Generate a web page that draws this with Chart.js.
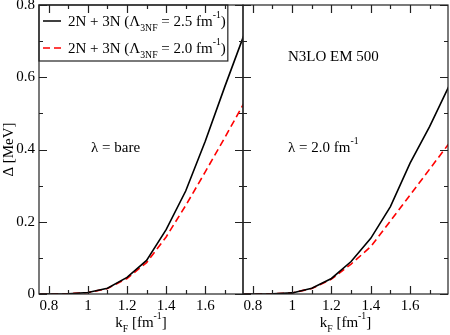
<!DOCTYPE html>
<html>
<head>
<meta charset="utf-8">
<script src="https://cdn.jsdelivr.net/npm/chart.js@4/dist/chart.umd.min.js"></script>
<style>
  html, body { margin: 0; padding: 0; background: #fff; }
  #wrap { position: relative; width: 450px; height: 335px; }
  canvas { position: absolute; left: 0; top: 0; }
</style>
</head>
<body>
<div id="wrap">
  <canvas id="chartBare" width="450" height="335"></canvas>
  <canvas id="chartSrg" width="450" height="335"></canvas>
</div>
<script>
// Fermi momentum k_F [fm^-1]
const kF = [0.7, 0.8, 0.9, 1.0, 1.1, 1.2, 1.3, 1.4, 1.5, 1.6, 1.7, 1.8];

// Panel kiri: lambda = bare
const bare25 = [0, 0, 0.0008, 0.004, 0.016, 0.046, 0.093, 0.178, 0.285, 0.423, 0.574, 0.72];
const bare20 = [0, 0, 0.0008, 0.004, 0.015, 0.043, 0.087, 0.158, 0.245, 0.338, 0.433, 0.53];

// Panel kanan: lambda = 2.0 fm^-1
const srg25 = [0, 0, 0.0005, 0.003, 0.016, 0.043, 0.090, 0.154, 0.242, 0.362, 0.464, 0.578];
const srg20 = [0, 0, 0.0005, 0.003, 0.015, 0.041, 0.083, 0.131, 0.202, 0.274, 0.346, 0.418];

// Label sumbu
const xTickLabels = [0.8, 1.0, 1.2, 1.4, 1.6];
const yTickLabels = [0, 0.2, 0.4, 0.6, 0.8];

const SERIF = "'Liberation Serif', 'DejaVu Serif', serif";
Chart.defaults.font.family = SERIF;
Chart.defaults.font.size = 15;
Chart.defaults.color = '#000';

function toPoints(ys) {
    return kF.map((k, i) => ({ x: k, y: ys[i] }));
}

function fmt(v) {
    return String(+Number(v).toFixed(1));
}

// Tulis teks dengan subscript / superscript
function drawRich(ctx, parts, x, y, size) {
    parts.forEach(p => {
        if (p.sub) {
            ctx.font = `${size * 0.65}px ${SERIF}`;
            ctx.fillText(p.t, x, y + size * 0.3);
        } else if (p.sup) {
            ctx.font = `${size * 0.65}px ${SERIF}`;
            ctx.fillText(p.t, x, y - size * 0.55);
        } else {
            ctx.font = `${size}px ${SERIF}`;
            ctx.fillText(p.t, x, y);
        }
        x += ctx.measureText(p.t).width;
    });
    return x;
}

// Bingkai + tick ke dalam ala xmgrace
const frameTicks = {
    id: 'frameTicks',
    afterDraw(chart) {
        const { ctx, chartArea: a, scales: { x, y } } = chart;
        ctx.save();
        ctx.strokeStyle = '#222';
        ctx.lineWidth = 1.2;
        ctx.strokeRect(a.left, a.top, a.right - a.left, a.bottom - a.top);
        ctx.beginPath();
        for (let k = 7; k <= 18; k++) {
            const v = k / 10;
            if (v < x.min || v > x.max) continue;
            const px = Math.round(x.getPixelForValue(v)) + 0.5;
            const len = k % 2 === 0 ? 8 : 4;
            ctx.moveTo(px, a.bottom); ctx.lineTo(px, a.bottom - len);
            ctx.moveTo(px, a.top); ctx.lineTo(px, a.top + len);
        }
        for (let k = 0; k <= 8; k++) {
            const py = Math.round(y.getPixelForValue(k / 10)) + 0.5;
            const len = k % 2 === 0 ? 8 : 4;
            ctx.moveTo(a.left, py); ctx.lineTo(a.left + len, py);
            ctx.moveTo(a.right, py); ctx.lineTo(a.right - len, py);
        }
        ctx.stroke();

        // judul sumbu x
        ctx.fillStyle = '#000';
        ctx.textBaseline = 'alphabetic';
        const parts = [{ t: 'k' }, { t: 'F', sub: true }, { t: ' [fm' }, { t: '-1', sup: true }, { t: ']' }];
        let w = 0;
        parts.forEach(p => {
            ctx.font = `${p.sub || p.sup ? 15 * 0.65 : 15}px ${SERIF}`;
            w += ctx.measureText(p.t).width;
        });
        drawRich(ctx, parts, (a.left + a.right) / 2 - w / 2, 327, 15);

        (chart.options.plugins.frameTicks.texts || []).forEach(t => {
            drawRich(ctx, t.parts, t.x, t.y, 15);
        });
        ctx.restore();
    }
};

// Legenda + judul sumbu y (hanya panel kiri)
const legendBox = {
    id: 'legendBox',
    afterDraw(chart) {
        const { ctx, chartArea: a } = chart;
        ctx.save();
        ctx.fillStyle = '#000';
        const rows = [
            { color: '#000', dash: [], lab: '2.5' },
            { color: '#ff0000', dash: [7, 4], lab: '2.0' }
        ];
        let endX = 0;
        rows.forEach((r, i) => {
            const base = 26 + i * 27;
            ctx.strokeStyle = r.color;
            ctx.lineWidth = 1.5;
            ctx.setLineDash(r.dash);
            ctx.beginPath();
            ctx.moveTo(43, base - 5);
            ctx.lineTo(61, base - 5);
            ctx.stroke();
            ctx.setLineDash([]);
            endX = drawRich(ctx, [
                { t: '2N + 3N (\u039B' }, { t: '3NF', sub: true },
                { t: ' = ' + r.lab + ' fm' }, { t: '-1', sup: true }, { t: ')' }
            ], 68, base, 15);
        });
        ctx.strokeStyle = '#222';
        ctx.lineWidth = 1.2;
        ctx.strokeRect(a.left, a.top, endX + 2 - a.left, 56);

        ctx.translate(13, (a.top + a.bottom) / 2);
        ctx.rotate(-Math.PI / 2);
        ctx.font = `15px ${SERIF}`;
        ctx.textAlign = 'center';
        ctx.fillText('\u0394 [MeV]', 0, 0);
        ctx.restore();
    }
};

function makePanel(canvasId, black, red, pad, showY, texts, extra) {
    const ctx = document.getElementById(canvasId).getContext('2d');
    return new Chart(ctx, {
        type: 'line',
        data: {
            datasets: [{
                data: toPoints(black),
                borderColor: '#000',
                borderWidth: 1.6,
                pointRadius: 0,
                tension: 0
            }, {
                data: toPoints(red),
                borderColor: '#ff0000',
                borderWidth: 1.6,
                borderDash: [7, 4],
                pointRadius: 0,
                tension: 0
            }]
        },
        options: {
            responsive: false,
            animation: false,
            layout: { padding: pad },
            plugins: {
                legend: { display: false },
                tooltip: { enabled: false },
                frameTicks: { texts: texts }
            },
            scales: {
                x: {
                    type: 'linear',
                    min: 0.75,
                    max: 1.793,
                    grid: { display: false, drawTicks: false },
                    border: { display: false },
                    afterBuildTicks: s => { s.ticks = xTickLabels.map(v => ({ value: v })); },
                    afterFit: s => { s.height = 41; s.paddingLeft = 0; s.paddingRight = 0; },
                    ticks: { padding: 3, maxRotation: 0, callback: fmt }
                },
                y: {
                    display: showY,
                    min: 0,
                    max: 0.8,
                    grid: { display: false, drawTicks: false },
                    border: { display: false },
                    afterBuildTicks: s => { s.ticks = yTickLabels.map(v => ({ value: v })); },
                    afterFit: s => {
                        s.width = showY ? 39 : 0;
                        s.paddingTop = 0;
                        s.paddingBottom = 0;
                    },
                    ticks: { padding: 4, callback: fmt }
                }
            }
        },
        plugins: [frameTicks].concat(extra)
    });
}

window.onload = () => {
    makePanel('chartBare', bare25, bare20, { left: 0, top: 5, right: 207, bottom: 0 }, true, [
        { x: 91, y: 152, parts: [{ t: '\u03BB = bare' }] }
    ], [legendBox]);

    makePanel('chartSrg', srg25, srg20, { left: 243, top: 5, right: 2, bottom: 0 }, false, [
        { x: 288, y: 61, parts: [{ t: 'N3LO EM 500' }] },
        { x: 288, y: 152, parts: [{ t: '\u03BB = 2.0 fm' }, { t: '-1', sup: true }] }
    ], []);
};
</script>
</body>
</html>
